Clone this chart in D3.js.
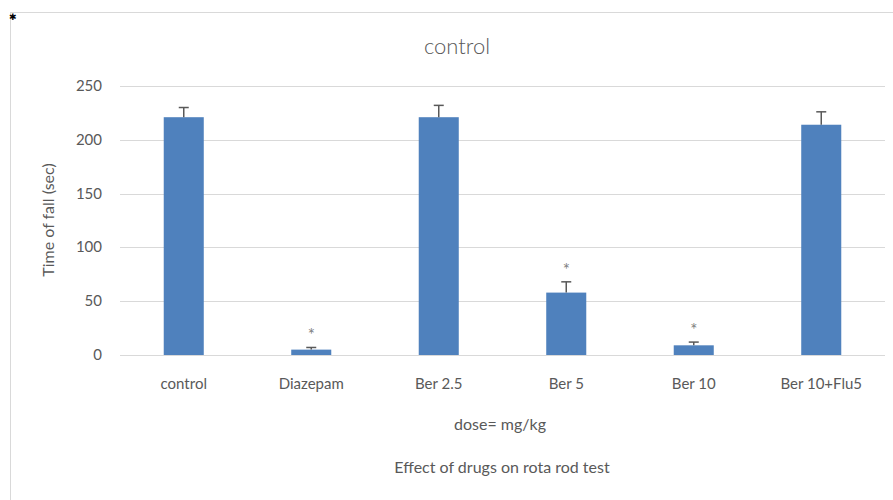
<!DOCTYPE html>
<html>
<head>
<meta charset="utf-8">
<script src="https://cdn.jsdelivr.net/npm/d3@7"></script>
<style>
  body { margin: 0; background: #fff; }
  svg text { font-family: Lato, "Open Sans", sans-serif; fill: #595959; }
</style>
</head>
<body>
<svg id="chart" width="893" height="500"></svg>
<script>
const categories = ["control", "Diazepam", "Ber 2.5", "Ber 5", "Ber 10", "Ber 10+Flu5"];
const values = [221, 5, 221, 58, 9, 214];
const errors = [9, 2, 11, 10, 3, 12];
const significant = [false, true, false, true, true, false];
const yTicks = [0, 50, 100, 150, 200, 250];

const svg = d3.select("#chart");
const width = 893, height = 500;
const margin = { top: 86, right: 8, bottom: 145, left: 120 };

// frame
svg.append("rect")
  .attr("x", 10.5).attr("y", 12.5)
  .attr("width", 1000).attr("height", 1000)
  .attr("fill", "none").attr("stroke", "#d9d9d9");
svg.append("text")
  .attr("x", 13).attr("y", 20)
  .attr("text-anchor", "middle")
  .style("fill", "#000").style("font-size", "9px")
  .text("✱");

const x = d3.scaleBand()
  .domain(categories)
  .range([margin.left, width - margin.right])
  .paddingInner(0.686)
  .paddingOuter(0.343);

const y = d3.scaleLinear()
  .domain([0, 250])
  .range([height - margin.bottom, margin.top]);

// gridlines
svg.append("g")
  .selectAll("line")
  .data(yTicks)
  .join("line")
  .attr("x1", margin.left).attr("x2", width - margin.right)
  .attr("y1", d => Math.round(y(d)) + 0.5).attr("y2", d => Math.round(y(d)) + 0.5)
  .attr("stroke", "#d9d9d9").attr("stroke-width", 1);

// y tick labels
svg.append("g")
  .selectAll("text")
  .data(yTicks)
  .join("text")
  .attr("x", margin.left - 18)
  .attr("y", d => y(d) + 5)
  .attr("text-anchor", "end")
  .style("font-size", "15px")
  .text(d => d);

// bars
svg.append("g")
  .selectAll("rect")
  .data(categories)
  .join("rect")
  .attr("x", d => x(d))
  .attr("y", (d, i) => y(values[i]))
  .attr("width", x.bandwidth())
  .attr("height", (d, i) => y(0) - y(values[i]))
  .attr("fill", "#4f81bd");

// error bars
const eb = svg.append("g").attr("stroke", "#595959").attr("stroke-width", 1.5);
categories.forEach((c, i) => {
  const cx = x(c) + x.bandwidth() / 2;
  eb.append("line")
    .attr("x1", cx).attr("x2", cx)
    .attr("y1", y(values[i])).attr("y2", y(values[i] + errors[i]));
  eb.append("line")
    .attr("x1", cx - 5).attr("x2", cx + 5)
    .attr("y1", y(values[i] + errors[i])).attr("y2", y(values[i] + errors[i]));
});

// significance stars
svg.append("g")
  .selectAll("text")
  .data(categories.filter((c, i) => significant[i]))
  .join("text")
  .attr("x", d => x(d) + x.bandwidth() / 2)
  .attr("y", d => {
    const i = categories.indexOf(d);
    return y(values[i] + errors[i]) - 6;
  })
  .attr("text-anchor", "middle")
  .style("font-size", "17px")
  .style("fill", "#808080")
  .text("*");

// x labels
svg.append("g")
  .selectAll("text")
  .data(categories)
  .join("text")
  .attr("x", d => x(d) + x.bandwidth() / 2)
  .attr("y", 389)
  .attr("text-anchor", "middle")
  .style("font-size", "15px")
  .text(d => d);

// titles
svg.append("text")
  .attr("x", 457).attr("y", 54)
  .attr("text-anchor", "middle")
  .style("font-size", "22px")
  .style("font-weight", 300)
  .text("control");

svg.append("text")
  .attr("transform", "translate(54,220) rotate(-90)")
  .attr("text-anchor", "middle")
  .style("font-size", "16px")
  .text("Time of fall (sec)");

svg.append("text")
  .attr("x", 500).attr("y", 430)
  .attr("text-anchor", "middle")
  .style("font-size", "16px")
  .text("dose= mg/kg");

svg.append("text")
  .attr("x", 502).attr("y", 473)
  .attr("text-anchor", "middle")
  .style("font-size", "16px")
  .text("Effect of drugs on rota rod test");
</script>
</body>
</html>
